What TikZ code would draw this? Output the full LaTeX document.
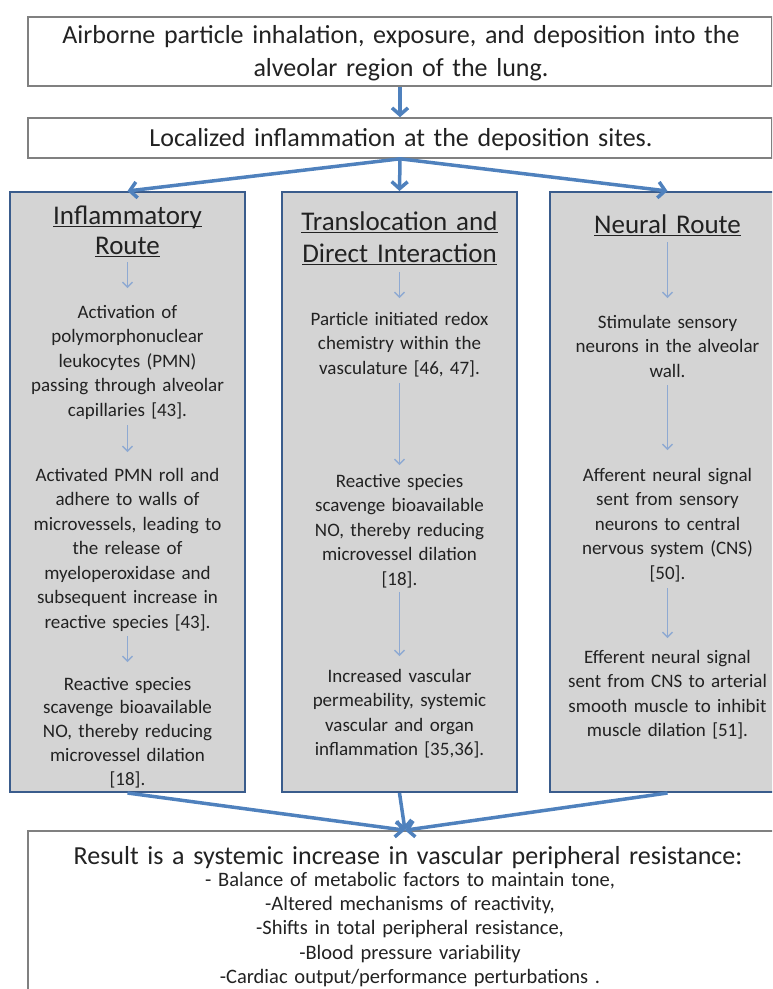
\documentclass[tikz,border=0pt]{standalone}
\usepackage{fontspec}
\setmainfont{Carlito}
\usetikzlibrary{arrows.meta}
\definecolor{thickblue}{HTML}{4F81BD}
\definecolor{thinblue}{HTML}{8EA9D2}
\definecolor{colborder}{HTML}{3A5C8C}
\definecolor{colfill}{HTML}{D4D4D4}
\definecolor{boxgray}{HTML}{808080}
\definecolor{textcol}{HTML}{222222}
\newsavebox{\ulbox}
\newcommand{\uln}[1]{\leavevmode\sbox{\ulbox}{#1}\rlap{\rule[-3pt]{\wd\ulbox}{1.3pt}}\usebox{\ulbox}}
\begin{document}
\begin{tikzpicture}[x=1pt,y=-1pt,
  colbox/.style={draw=colborder, line width=2pt, fill=colfill, minimum width=235pt, minimum height=600pt, inner sep=0pt},
  whitebox/.style={draw=boxgray, line width=1.6pt, fill=white, inner sep=0pt},
  bigarrow/.style={draw=thickblue, line width=3.5pt, -{Straight Barb[length=7pt,width=16pt]}},
  smallarrow/.style={draw=thinblue, line width=1.4pt, -{Straight Barb[length=5pt,width=10pt]}},
  coltext/.style={text width=240pt, align=center, anchor=base, inner sep=0pt, font=\fontsize{19}{24.5}\selectfont, text=textcol},
  headtext/.style={coltext, font=\fontsize{27}{30}\selectfont},
  bigtext/.style={text width=780pt, align=center, anchor=base, inner sep=0pt, font=\fontsize{26}{33}\selectfont, text=textcol},
  listtext/.style={text width=760pt, align=center, anchor=base, inner sep=0pt, font=\fontsize{20.5}{24.4}\selectfont, text=textcol}
]
\useasboundingbox (0,0) rectangle (772,989);
\clip (0,0) rectangle (772,989);

% boxes
\node[whitebox, minimum width=744pt, minimum height=69pt] (top) at (400,51.5) {};
\node[whitebox, minimum width=744pt, minimum height=40pt] (loc) at (400,138) {};
\node[colbox] (lcol) at (127.5,492) {};
\node[colbox] (mcol) at (399.5,492) {};
\node[colbox] (rcol) at (667.5,492) {};
\node[whitebox, minimum width=754pt, minimum height=170pt] (res) at (405,916) {};

% top texts
\node[bigtext] (toptext) at (401,43) {Airborne particle inhalation, exposure, and deposition into the\\alveolar region of the lung.};
\node[bigtext] (loctext) at (401,146) {Localized inflammation at the deposition sites.};

% big arrows
\draw[bigarrow] (top.south) -- (loc.north);
\draw[bigarrow] (loc.south) -- (lcol.north);
\draw[bigarrow] (loc.south) -- (mcol.north);
\draw[bigarrow] (loc.south) -- (rcol.north);
\draw[bigarrow] (lcol.south) -- (res.north);
\draw[bigarrow] (mcol.south) -- (res.north);
\draw[bigarrow] (rcol.south) -- (res.north);

% left column
\node[headtext] (lhead) at (127.5,224) {\uln{Inflammatory}\\\uln{Route}};
\coordinate (la1s) at (127.5,262); \coordinate (la1e) at (127.5,288);
\draw[smallarrow] (la1s) -- (la1e);
\node[coltext] (lt1) at (127.5,318) {Activation of\\polymorphonuclear\\leukocytes (PMN)\\passing through alveolar\\capillaries {[43]}.};
\coordinate (la2s) at (127.5,425); \coordinate (la2e) at (127.5,452);
\draw[smallarrow] (la2s) -- (la2e);
\node[coltext] (lt2) at (127.5,481) {Activated PMN roll and\\adhere to walls of\\microvessels, leading to\\the release of\\myeloperoxidase and\\subsequent increase in\\reactive species {[43]}.};
\coordinate (la3s) at (127.5,636); \coordinate (la3e) at (127.5,662);
\draw[smallarrow] (la3s) -- (la3e);
\node[coltext, font=\fontsize{19}{23.8}\selectfont] (lt3) at (127.5,690) {Reactive species\\scavenge bioavailable\\NO, thereby reducing\\microvessel dilation\\{[18]}.};

% middle column
\node[headtext] (mhead) at (399.5,230) {\uln{Translocation and}\\[2pt]\uln{Direct Interaction}};
\coordinate (ma1s) at (399.5,272); \coordinate (ma1e) at (399.5,298);
\draw[smallarrow] (ma1s) -- (ma1e);
\node[coltext] (mt1) at (399.5,325) {Particle initiated redox\\chemistry within the\\vasculature {[46, 47]}.};
\coordinate (ma2s) at (399.5,383); \coordinate (ma2e) at (399.5,465);
\draw[smallarrow] (ma2s) -- (ma2e);
\node[coltext] (mt2) at (399.5,487) {Reactive species\\scavenge bioavailable\\NO, thereby reducing\\microvessel dilation\\{[18]}.};
\coordinate (ma3s) at (399.5,592); \coordinate (ma3e) at (399.5,656);
\draw[smallarrow] (ma3s) -- (ma3e);
\node[coltext] (mt3) at (399.5,682) {Increased vascular\\permeability, systemic\\vascular and organ\\inflammation {[35,36]}.};

% right column
\node[headtext] (rhead) at (667.5,233) {\uln{Neural Route}};
\coordinate (ra1s) at (667.5,242); \coordinate (ra1e) at (667.5,298);
\draw[smallarrow] (ra1s) -- (ra1e);
\node[coltext] (rt1) at (667.5,328) {Stimulate sensory\\neurons in the alveolar\\wall.};
\coordinate (ra2s) at (667.5,385); \coordinate (ra2e) at (667.5,450);
\draw[smallarrow] (ra2s) -- (ra2e);
\node[coltext] (rt2) at (667.5,481) {Afferent neural signal\\sent from sensory\\neurons to central\\nervous system (CNS)\\{[50]}.};
\coordinate (ra3s) at (667.5,588); \coordinate (ra3e) at (667.5,638);
\draw[smallarrow] (ra3s) -- (ra3e);
\node[coltext] (rt3) at (667.5,663) {Efferent neural signal\\sent from CNS to arterial\\smooth muscle to inhibit\\muscle dilation {[51]}.};

% result
\node[bigtext] (restitle) at (408,864) {Result is a systemic increase in vascular peripheral resistance:};
\node[listtext] (reslist) at (410,886) {- Balance of metabolic factors to maintain tone,\\-Altered mechanisms of reactivity,\\-Shifts in total peripheral resistance,\\-Blood pressure variability\\-Cardiac output/performance perturbations .};
\end{tikzpicture}
\end{document}
